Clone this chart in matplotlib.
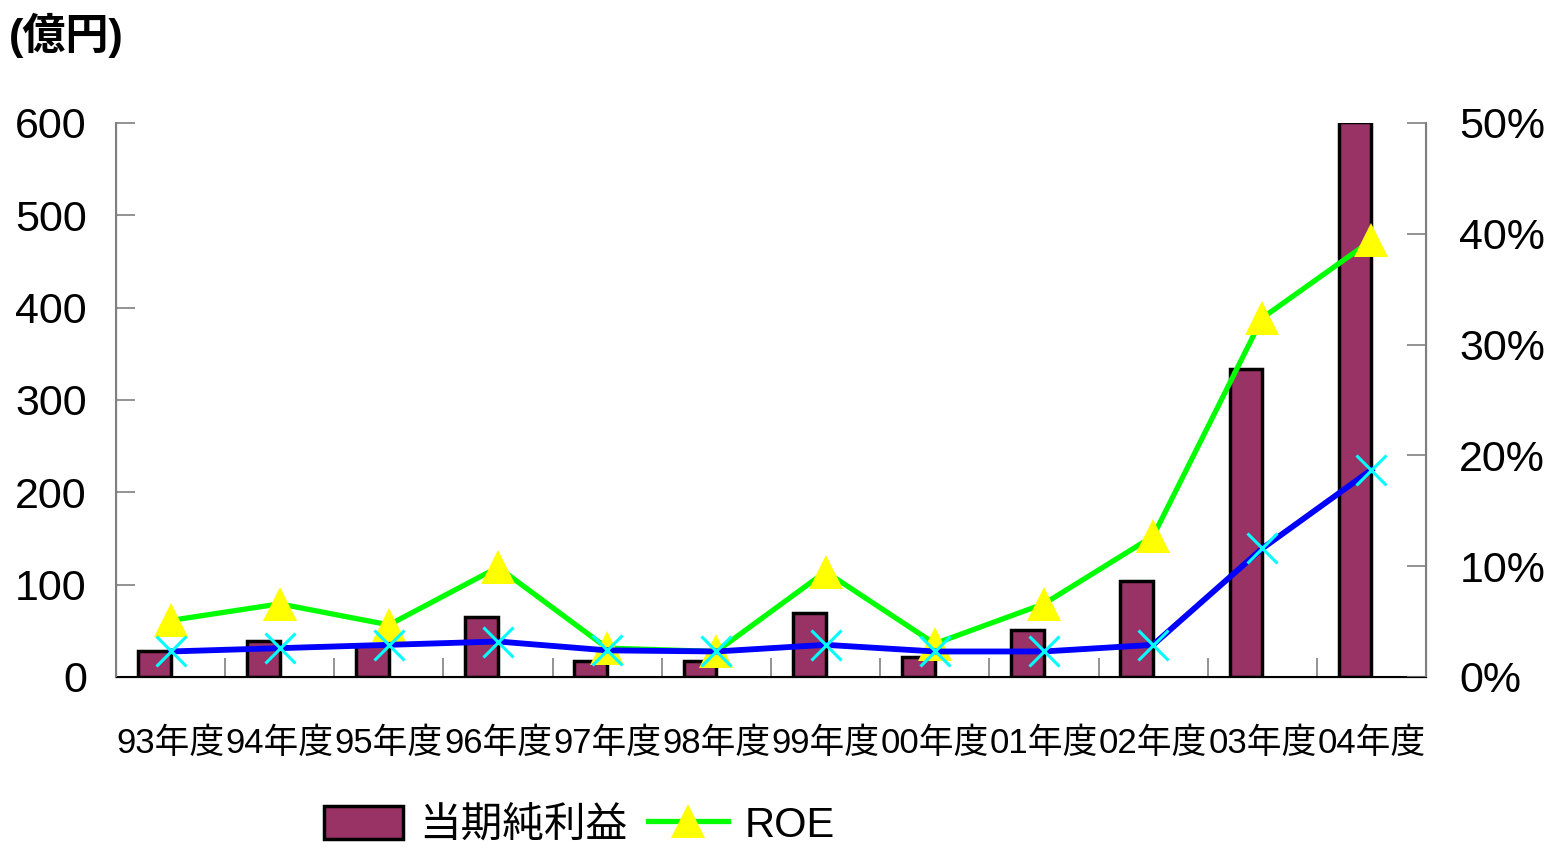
import matplotlib
matplotlib.use("Agg")
import matplotlib.pyplot as plt
from matplotlib.ticker import FixedLocator, FuncFormatter

# --- dados ---
categorias = ["93年度", "94年度", "95年度", "96年度", "97年度", "98年度",
              "99年度", "00年度", "01年度", "02年度", "03年度", "04年度"]
lucro_liquido = [28, 39, 35, 65, 17, 17, 69, 22, 51, 104, 333, 601]  # 当期純利益 (億円)
roe = [5.1, 6.6, 4.7, 9.9, 2.6, 2.3, 9.5, 3.0, 6.6, 12.7, 32.4, 39.4]  # %
roa = [2.3, 2.6, 2.9, 3.2, 2.4, 2.3, 2.9, 2.3, 2.3, 2.9, 11.6, 18.7]  # %
ticks_esq = [0, 100, 200, 300, 400, 500, 600]
ticks_dir = [0, 10, 20, 30, 40, 50]

FAM = ["Liberation Sans", "Noto Sans CJK JP", "DejaVu Sans"]
plt.rcParams["font.family"] = FAM

fig = plt.figure(figsize=(15.44, 8.48), dpi=100)
ax = fig.add_axes([0.0751, 0.2017, 0.8485, 0.6533])
ax2 = ax.twinx()

xs = list(range(len(categorias)))

# barras deslocadas para a esquerda do centro da categoria
ax.bar([x - 0.15 for x in xs], lucro_liquido, width=0.3,
       color="#993366", edgecolor="black", linewidth=2.5, label="当期純利益", zorder=2)

ax2.plot(xs, roe, color="#00FF00", linewidth=3.8, marker="^", markersize=24,
         markerfacecolor="#FFFF00", markeredgewidth=0, label="ROE", zorder=3)
ax2.plot(xs, roa, color="#0000FF", linewidth=4.2, marker="x", markersize=22,
         markeredgecolor="#00FFFF", markeredgewidth=2.2, zorder=4)

ax.set_xlim(-0.5, len(categorias) - 0.5)
ax.set_ylim(0, 600)
ax2.set_ylim(0, 50)

# eixos
ax.spines["top"].set_visible(False)
ax2.spines["top"].set_visible(False)
ax.spines["bottom"].set_color("black")
ax.spines["bottom"].set_linewidth(1.5)
for sp in ("left", "right"):
    ax2.spines[sp].set_color("#808080")
    ax2.spines[sp].set_linewidth(1.5)

ax.yaxis.set_major_locator(FixedLocator(ticks_esq))
ax.tick_params(axis="y", direction="in", length=14, width=1.2, color="#808080",
               labelsize=31, pad=21)
ax2.yaxis.set_major_locator(FixedLocator(ticks_dir))
ax2.yaxis.set_major_formatter(FuncFormatter(lambda v, p: f"{int(v)}%"))
ax2.tick_params(axis="y", direction="in", length=14, width=1.2, color="#808080",
                labelsize=31, pad=24)

ax.set_xticks(xs)
ax.set_xticklabels(categorias)
ax.set_xticks([x + 0.5 for x in xs[:-1]], minor=True)
ax.tick_params(axis="x", which="major", length=0, labelsize=25, pad=36)
ax.tick_params(axis="x", which="minor", direction="in", length=14, width=1.2,
               color="#808080")

fig.text(0.006, 0.958, "(億円)", fontsize=31, fontweight="bold", ha="left", va="center")

# legenda
h1, l1 = ax.get_legend_handles_labels()
h2, l2 = ax2.get_legend_handles_labels()
fig.legend(h1 + h2, l1 + l2, loc="center", bbox_to_anchor=(0.375, 0.026),
           ncol=2, frameon=False, fontsize=30, handlelength=1.9, handleheight=0.85,
           handletextpad=0.4, columnspacing=0.5)

plt.savefig("out.png", dpi=100)
plt.close(fig)
